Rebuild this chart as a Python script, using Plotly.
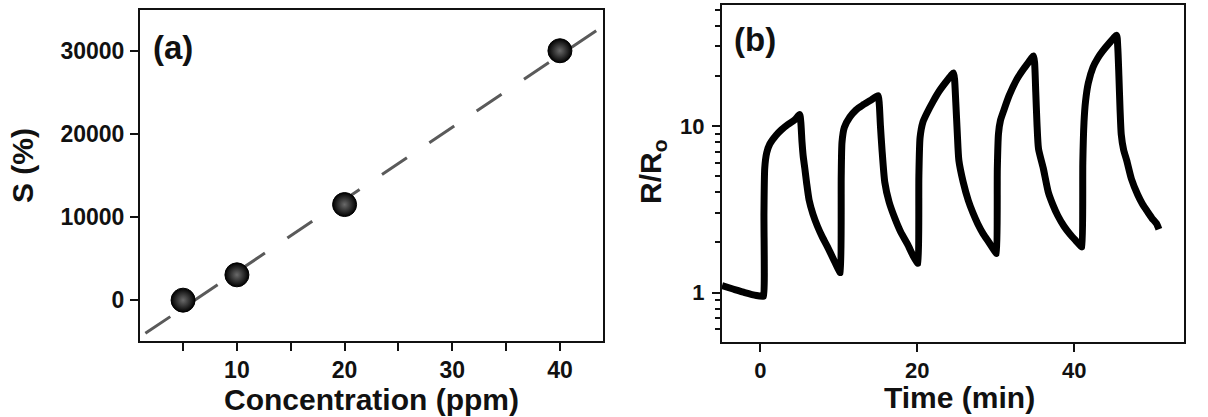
import plotly.graph_objects as go

# ---- Panel (a) data ----
conc_ppm = [5, 10, 20, 40]
sens_pct = [0, 3050, 11500, 30000]
fit_x = [1.5, 44.0]
fit_y = [-3990, 32960]

# ---- Panel (b) data ----
time_min = [-4.9, -3.5, -2.0, -0.5, 0.3,
            0.4, 0.45, 0.55, 0.8, 1.2, 2.0, 2.7, 3.5, 4.4, 5.0,
            5.15, 5.3, 5.45, 5.65, 5.9, 6.2, 6.7, 7.27, 7.9, 8.55, 9.5, 10.15,
            10.2, 10.3, 10.4, 10.7, 11.4, 12.2, 13.0, 14.0, 15.0,
            15.15, 15.3, 15.5, 15.85, 16.4, 17.1, 17.9, 18.75, 19.5, 20.05,
            20.1, 20.2, 20.35, 20.7, 21.25, 22.0, 22.8, 23.9, 24.6,
            24.75, 24.9, 25.1, 25.3, 25.85, 26.5, 27.1, 27.7, 28.4, 29.1, 30.05,
            30.1, 30.2, 30.35, 30.6, 31.05, 31.7, 32.7, 33.5, 34.1, 34.8,
            34.95, 35.1, 35.25, 35.45, 36.05, 36.7, 37.3, 37.9, 38.7, 39.5, 40.2, 40.95,
            41.0, 41.1, 41.25, 41.45, 41.8, 42.4, 43.0, 43.6, 44.5, 45.4,
            45.55, 45.7, 45.85, 46.0, 46.3, 46.7, 47.3, 48.1, 48.7, 49.3, 49.9, 50.5, 50.8]
ratio = [1.10, 1.05, 1.00, 0.96, 0.95,
         0.95, 3.0, 5.6, 6.9, 7.8, 8.8, 9.5, 10.2, 10.9, 11.7,
         10.5, 8.0, 6.6, 5.6, 4.5, 3.6, 2.95, 2.5, 2.15, 1.88, 1.52, 1.32,
         1.32, 5.0, 8.0, 9.8, 11.3, 12.5, 13.3, 14.2, 15.2,
         13.5, 10.0, 7.2, 4.6, 3.5, 2.82, 2.3, 1.95, 1.65, 1.5,
         1.5, 5.0, 8.5, 10.5, 12.0, 14.0, 16.2, 19.0, 20.8,
         19.0, 14.0, 9.0, 6.2, 4.6, 3.57, 3.0, 2.59, 2.25, 2.01, 1.72,
         1.72, 5.5, 9.0, 10.8, 12.5, 15.2, 19.1, 21.8, 23.8, 26.3,
         24.0, 16.0, 10.5, 7.3, 5.6, 4.0, 3.35, 2.9, 2.5, 2.23, 2.05, 1.88,
         1.88, 6.0, 10.5, 14.1, 18.1, 22.5, 25.5, 28.0, 31.5, 35.0,
         30.0, 20.0, 12.5, 8.9, 7.2, 6.2, 4.8, 3.86, 3.4, 3.08, 2.8, 2.59, 2.4]

# ---- Tick labels ----
a_xtickvals = [10, 20, 30, 40]
a_xminor = [5, 15, 25, 35]
a_ytickvals = [0, 10000, 20000, 30000]
a_yticktext = ["0", "10000", "20000", "30000"]
b_xtickvals = [0, 20, 40]
b_ytickvals = [1, 10]
b_yticktext = ["1", "10"]
b_yminor = [0.6, 0.7, 0.8, 0.9, 2, 3, 4, 5, 6, 7, 8, 9, 20, 30, 40, 50]

FONT = "Liberation Sans, Arial, sans-serif"
W, H = 1208, 417

fig = go.Figure()

fig.add_trace(go.Scatter(
    x=fit_x, y=fit_y, mode="lines",
    line=dict(color="#5a5a5a", width=3, dash="30px,27px"),
    xaxis="x", yaxis="y", showlegend=False, hoverinfo="skip"))
fig.add_trace(go.Scatter(
    x=conc_ppm, y=sens_pct, mode="markers",
    marker=dict(size=24, color="#000000",
                gradient=dict(type="radial", color="#6a6a6a"),
                line=dict(color="#000000", width=1)),
    xaxis="x", yaxis="y", showlegend=False))

fig.add_trace(go.Scatter(
    x=time_min, y=ratio, mode="lines",
    line=dict(color="#000000", width=7, shape="spline", smoothing=0.6),
    xaxis="x2", yaxis="y2", showlegend=False))

tickfont = dict(family=FONT, size=23, color="#111", weight="bold")
axis_common = dict(showline=True, linecolor="#111", linewidth=2, mirror=True,
                   ticks="outside", ticklen=8, tickwidth=2, tickcolor="#111",
                   showgrid=False, zeroline=False, tickfont=tickfont)
tickfont_b = dict(family=FONT, size=22, color="#111", weight="bold")

fig.update_layout(
    width=W, height=H,
    margin=dict(l=0, r=0, t=0, b=0),
    paper_bgcolor="white", plot_bgcolor="white",
    xaxis=dict(domain=[140 / W, 603 / W], range=[1.0, 44.0],
               tickmode="array", tickvals=a_xtickvals,
               minor=dict(tickmode="array", tickvals=a_xminor, ticks="outside",
                          ticklen=8, tickwidth=2, tickcolor="#111", showgrid=False),
               anchor="y", ticklabelstandoff=0, **axis_common),
    yaxis=dict(domain=[1 - 340.5 / H, 1 - 10 / H], range=[-4850, 34900],
               tickmode="array", tickvals=a_ytickvals, ticktext=a_yticktext,
               anchor="x", ticklabelstandoff=1, **axis_common),
    xaxis2=dict(domain=[722 / W, 1184 / W], range=[-4.9, 54.0],
                tickmode="array", tickvals=b_xtickvals,
                anchor="y2", ticklabelstandoff=0,
                **{**axis_common, "tickfont": tickfont_b}),
    yaxis2=dict(domain=[1 - 341.5 / H, 1 - 5 / H], type="log", range=[-0.294, 1.726],
                tickmode="array", tickvals=b_ytickvals, ticktext=b_yticktext,
                anchor="x2", ticklabelstandoff=3,
                minor=dict(tickmode="array", tickvals=b_yminor, ticks="outside",
                           ticklen=5, tickwidth=2, tickcolor="#111", showgrid=False),
                **{**axis_common, "tickfont": tickfont_b}),
)

title_font = dict(family=FONT, size=30, color="#111", weight="bold")
ann = [
    dict(text="Concentration (ppm)", x=371 / W, y=1 - 399 / H, font=title_font,
         xanchor="center", yanchor="middle"),
    dict(text="S (%)", x=22 / W, y=1 - 166 / H, font=title_font, textangle=-90,
         xanchor="center", yanchor="middle"),
    dict(text="Time (min)", x=960 / W, y=1 - 397 / H, font=title_font,
         xanchor="center", yanchor="middle"),
    dict(text="R/R<sub>o</sub>", x=652 / W, y=1 - 172 / H, font=title_font, textangle=-90,
         xanchor="center", yanchor="middle"),
    dict(text="(a)", x=173 / W, y=1 - 47.5 / H,
         font=dict(family=FONT, size=33, color="#111", weight="bold"),
         xanchor="center", yanchor="middle"),
    dict(text="(b)", x=755 / W, y=1 - 40 / H,
         font=dict(family=FONT, size=33, color="#111", weight="bold"),
         xanchor="center", yanchor="middle"),
]
for a in ann:
    a.update(xref="paper", yref="paper", showarrow=False)
fig.update_layout(annotations=ann)

fig.write_html("out.html")
